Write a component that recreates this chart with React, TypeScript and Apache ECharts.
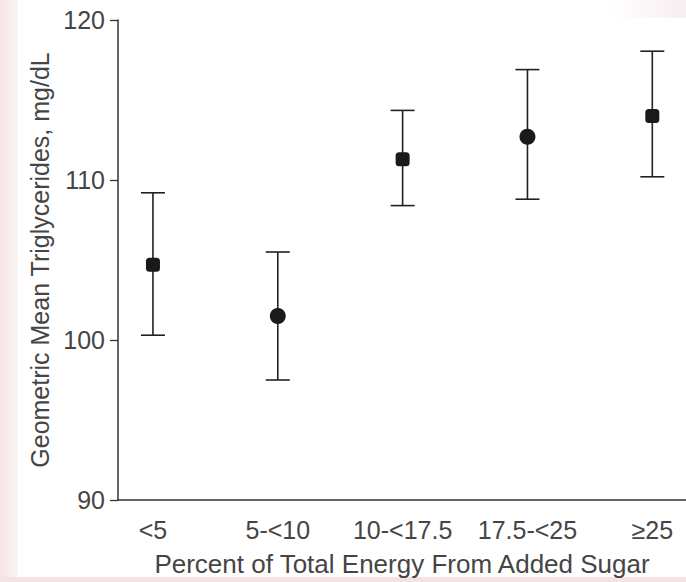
import React, { useEffect, useRef } from "react";
import * as echarts from "echarts";

const categories = ["<5", "5-<10", "10-<17.5", "17.5-<25", "≥25"];
const means = [104.7, 101.5, 111.3, 112.7, 114.0];
const lowerCI = [100.3, 97.5, 108.4, 108.8, 110.2];
const upperCI = [109.2, 105.5, 114.35, 116.9, 118.05];
const yTicks = [90, 100, 110, 120];

const FONT = "'Liberation Sans', Arial, Helvetica, sans-serif";
const TEXT = "#454545";

export default function App() {
  const ref = useRef<HTMLDivElement>(null);
  useEffect(() => {
    document.body.style.margin = "0";
    const chart = echarts.init(ref.current!, null, { renderer: "svg" });
    const errData = categories.map((_, i) => [i, lowerCI[i], upperCI[i]]);
    const meanData = categories.map((_, i) => [i, means[i]]);
    chart.setOption({
      animation: false,
      backgroundColor: "#ffffff",
      graphic: [
        {
          type: "rect",
          left: 0,
          top: 0,
          shape: { width: 18, height: 582 },
          style: {
            fill: new echarts.graphic.LinearGradient(0, 0, 1, 0, [
              { offset: 0, color: "#f3e4e7" },
              { offset: 1, color: "#fbf4f5" },
            ]),
          },
          silent: true,
          z: -10,
        },
        {
          type: "rect",
          left: 0,
          top: 577,
          shape: { width: 686, height: 5 },
          style: { fill: "#f3e3e5" },
          silent: true,
          z: -10,
        },
        {
          type: "rect",
          left: 610,
          top: 0,
          shape: { width: 76, height: 18 },
          style: {
            fill: new echarts.graphic.LinearGradient(0, 0, 1, 0, [
              { offset: 0, color: "#ffffff" },
              { offset: 1, color: "#f8eef0" },
            ]),
          },
          silent: true,
          z: -10,
        },
      ],
      grid: { left: 118, right: 0, top: 20, bottom: 82, containLabel: false },
      xAxis: {
        type: "value",
        min: -0.28,
        max: 4.27,
        name: "Percent of Total Energy From Added Sugar",
        nameLocation: "middle",
        nameGap: 51,
        nameTextStyle: { fontFamily: FONT, fontSize: 26, color: TEXT },
        axisLine: { show: true, onZero: false, lineStyle: { color: "#333", width: 1.5 } },
        axisTick: { show: false },
        splitLine: { show: false },
        axisLabel: {
          customValues: [0, 1, 2, 3, 4],
          formatter: (v: number) => categories[Math.round(v)] ?? "",
          fontFamily: FONT,
          fontSize: 25,
          color: TEXT,
          margin: 17,
        },
      },
      yAxis: {
        type: "value",
        min: yTicks[0],
        max: yTicks[yTicks.length - 1],
        interval: 10,
        name: "Geometric Mean Triglycerides, mg/dL",
        nameLocation: "middle",
        nameGap: 61,
        nameTextStyle: { fontFamily: FONT, fontSize: 25, color: TEXT },
        axisLine: { show: true, onZero: false, lineStyle: { color: "#333", width: 1.5 } },
        axisTick: { show: true, inside: false, length: 8, lineStyle: { color: "#333", width: 1.3 } },
        splitLine: { show: false },
        axisLabel: { fontFamily: FONT, fontSize: 25, color: TEXT, margin: 13 },
      },
      series: [
        {
          type: "custom",
          data: errData,
          z: 2,
          renderItem: (params: any, api: any) => {
            const x = api.value(0);
            const lo = api.coord([x, api.value(1)]);
            const hi = api.coord([x, api.value(2)]);
            const half = 12;
            const style = { stroke: "#222", lineWidth: 1.6 };
            return {
              type: "group",
              children: [
                { type: "line", shape: { x1: lo[0], y1: lo[1], x2: hi[0], y2: hi[1] }, style },
                { type: "line", shape: { x1: hi[0] - half, y1: hi[1], x2: hi[0] + half, y2: hi[1] }, style },
                { type: "line", shape: { x1: lo[0] - half, y1: lo[1], x2: lo[0] + half, y2: lo[1] }, style },
              ],
            };
          },
        },
        {
          type: "scatter",
          data: meanData,
          z: 3,
          symbol: (_v: any, p: any) => (p.dataIndex % 2 === 1 ? "circle" : "roundRect"),
          symbolSize: (_v: any, p: any) => (p.dataIndex % 2 === 1 ? 16 : 14),
          itemStyle: { color: "#1a1a1a", opacity: 1 },
        },
      ],
    });
    return () => chart.dispose();
  }, []);
  return (
    <div
      ref={ref}
      style={{ position: "absolute", left: 0, top: 0, width: 686, height: 582 }}
    />
  );
}
